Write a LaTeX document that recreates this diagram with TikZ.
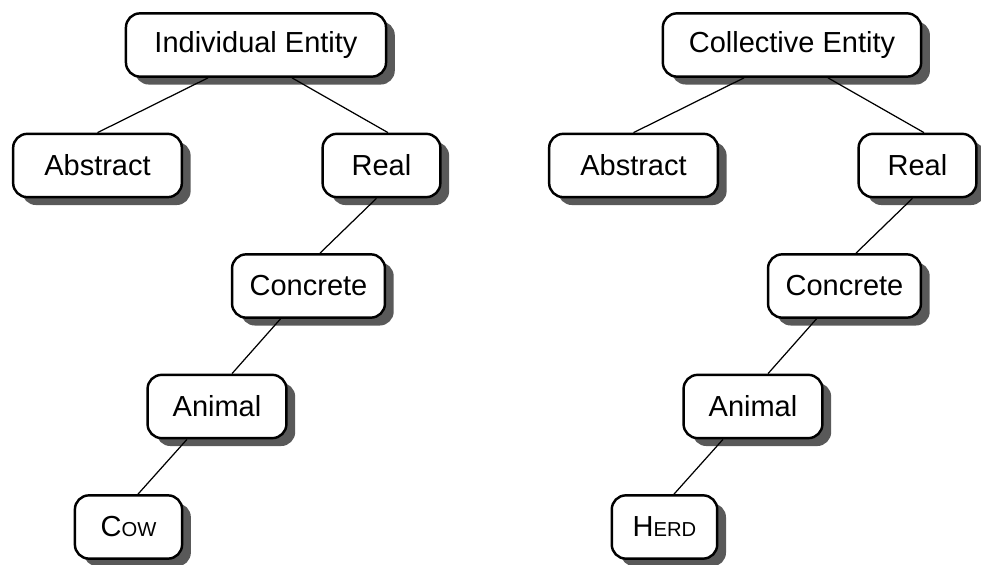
\documentclass[tikz,border=0pt]{standalone}
\usepackage{fontspec}
\setmainfont{Liberation Sans}
\usetikzlibrary{shadows}

% small capitals by hand, the sans font has none
\newcommand{\fakesc}[1]{{\fontsize{11.5}{13}\selectfont #1}}

\begin{document}
\begin{tikzpicture}[line width=0.7pt, node distance = 2.41cm, entity/.style={rectangle, rounded corners=8pt, draw=black, line width=1.4pt, fill=white, minimum height=36pt, font=\fontsize{16.5}{19}\selectfont, drop shadow={shadow xshift=5pt, shadow yshift=-4.5pt, fill=black!65, opacity=1}}]
        \useasboundingbox (-5.12,0.9) rectangle (14.5,-10.4);

        % individual
        \node[entity, minimum width=148pt] (ind) {Individual Entity};
        \node[entity, minimum width=96pt] (abs1) [below of=ind, xshift=-3.17cm] {Abstract};
        \node[entity, minimum width=67pt] (real1) [below of=ind, xshift=2.51cm] {Real};
        \node[entity, minimum width=87pt] (conc1) [below of=real1, xshift=-1.46cm] {Concrete};
        \node[entity, minimum width=79pt] (anim1) [below of=conc1, xshift=-1.83cm] {Animal};
        \node[entity, minimum width=61pt] (cow) [below of=anim1, xshift=-1.77cm] {C\fakesc{OW}};

        % collective
        \node[entity, minimum width=147pt] (col) [right of=ind, node distance=10.72cm] {Collective Entity};
        \node[entity, minimum width=96pt] (abs2) [below of=col, xshift=-3.17cm] {Abstract};
        \node[entity, minimum width=67pt] (real2) [below of=col, xshift=2.51cm] {Real};
        \node[entity, minimum width=87pt] (conc2) [below of=real2, xshift=-1.46cm] {Concrete};
        \node[entity, minimum width=79pt] (anim2) [below of=conc2, xshift=-1.83cm] {Animal};
        \node[entity, minimum width=60pt] (herd) [below of=anim2, xshift=-1.77cm] {H\fakesc{ERD}};

        \path ([xshift=-0.96cm]ind.south) edge (abs1.north)
            ([xshift=0.72cm]ind.south) edge ([xshift=0.13cm]real1.north)
            ([xshift=-0.1cm]real1.south) edge ([xshift=0.23cm]conc1.north)
            ([xshift=-0.56cm]conc1.south) edge ([xshift=0.3cm]anim1.north)
            ([xshift=-0.6cm]anim1.south) edge ([xshift=0.19cm]cow.north);

        \path ([xshift=-0.96cm]col.south) edge (abs2.north)
            ([xshift=0.72cm]col.south) edge ([xshift=0.13cm]real2.north)
            ([xshift=-0.1cm]real2.south) edge ([xshift=0.23cm]conc2.north)
            ([xshift=-0.56cm]conc2.south) edge ([xshift=0.3cm]anim2.north)
            ([xshift=-0.6cm]anim2.south) edge ([xshift=0.19cm]herd.north);
    \end{tikzpicture}
\end{document}
